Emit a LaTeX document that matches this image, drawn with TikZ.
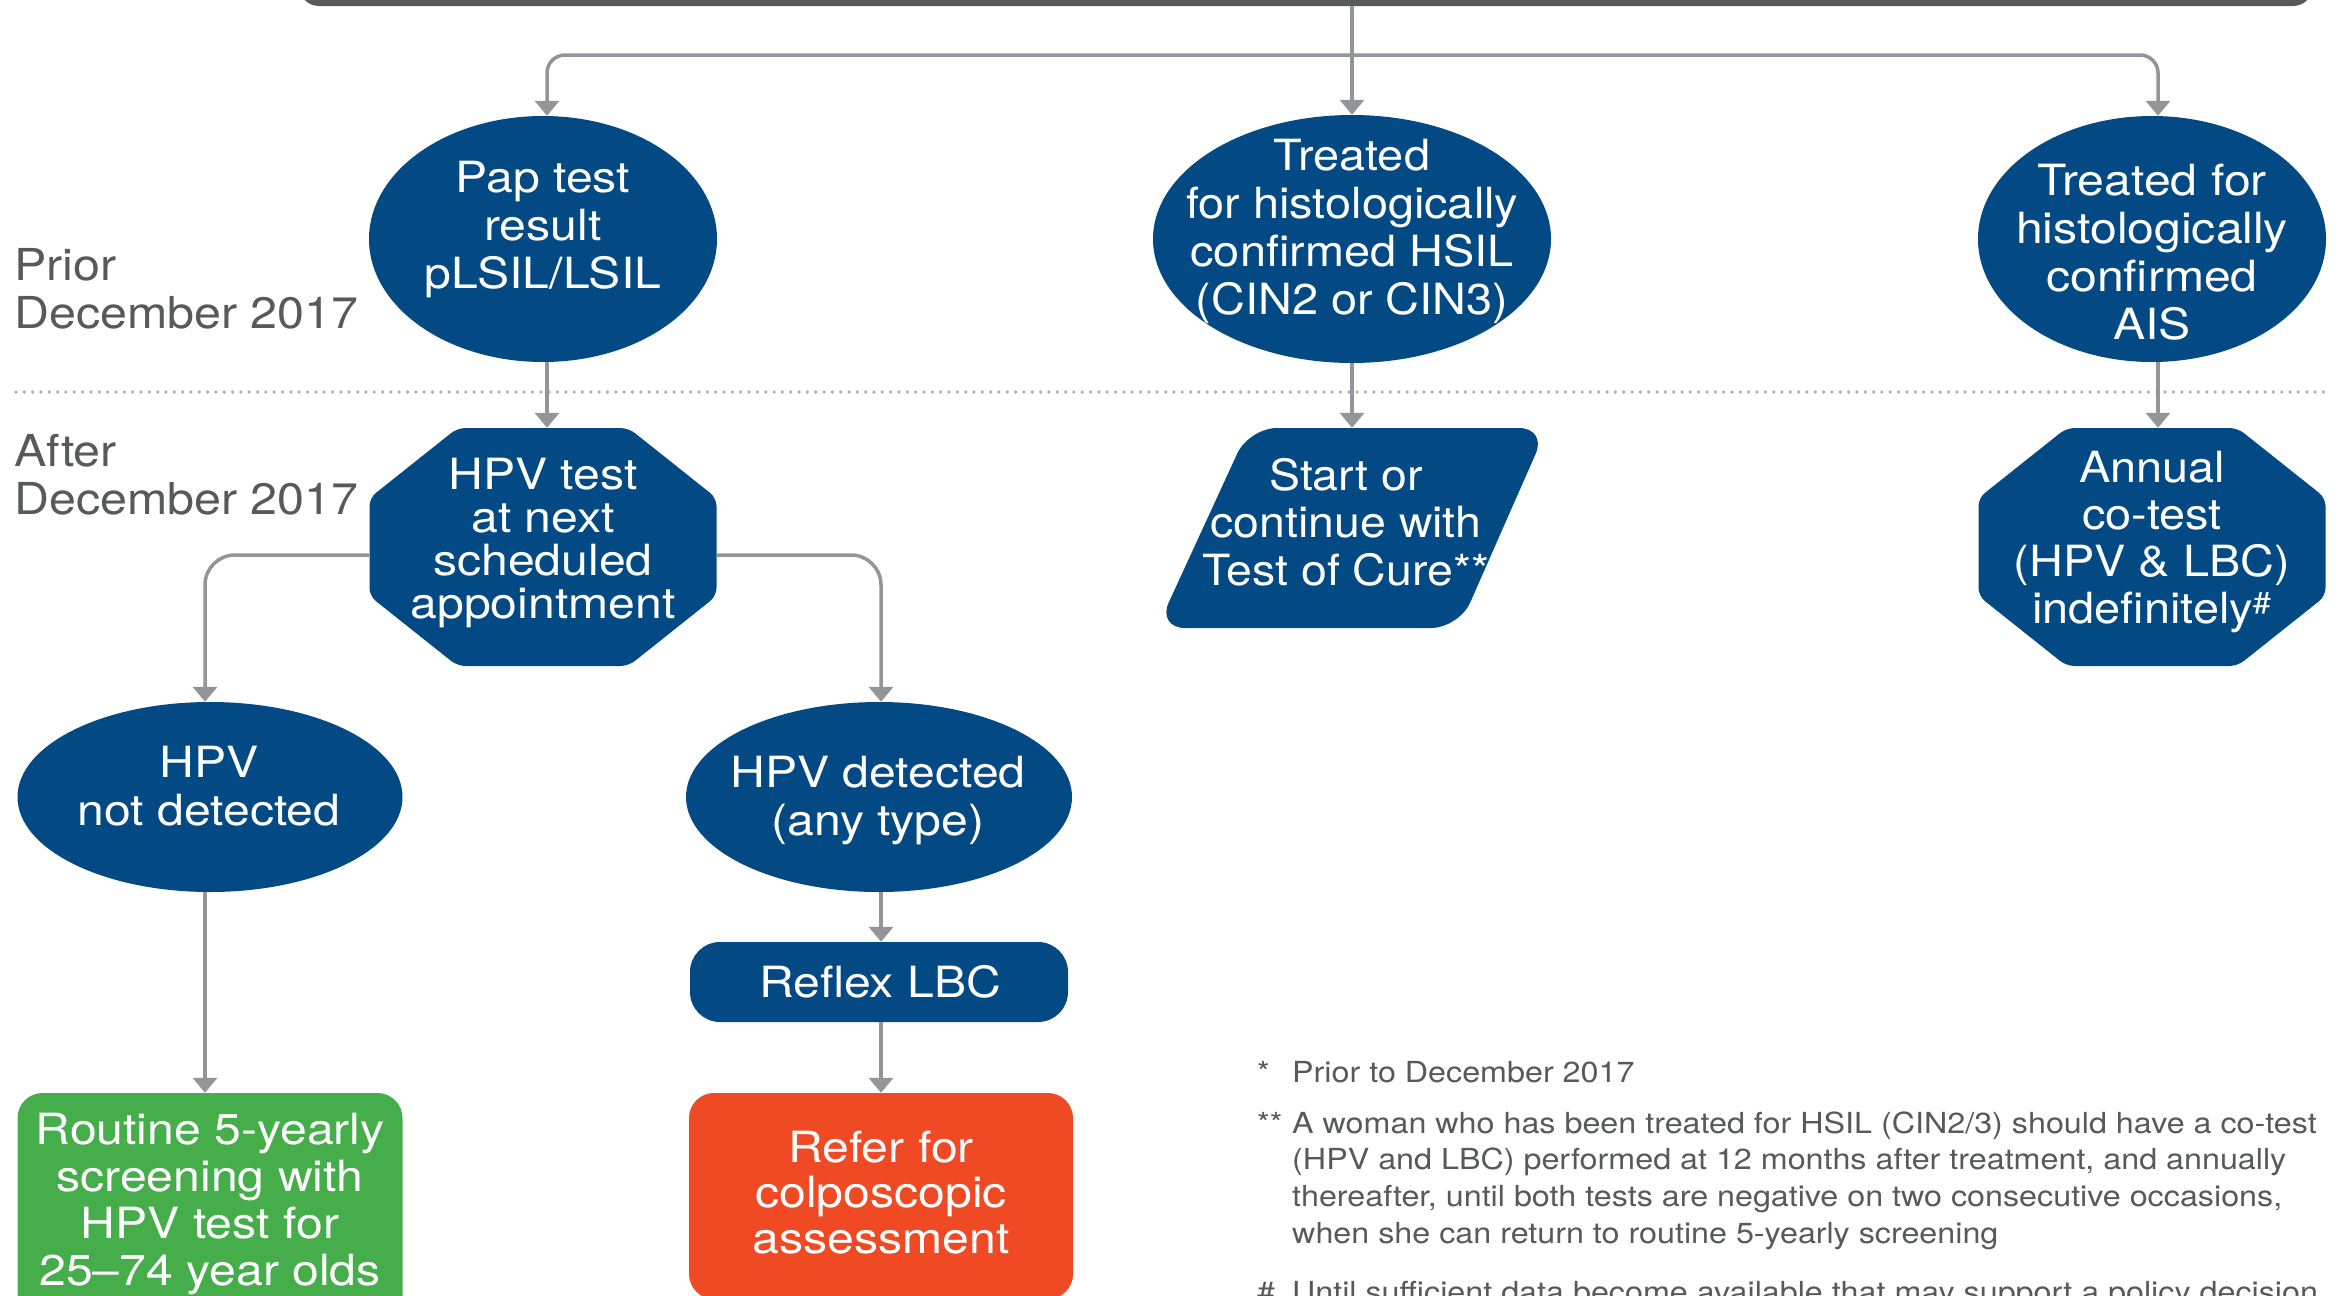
\documentclass[tikz,border=0pt]{standalone}
\usepackage{fontspec}
\setmainfont{TeX Gyre Heros}
\usepackage{graphicx}
\usetikzlibrary{shapes.geometric,arrows.meta,calc}
\definecolor{navy}{RGB}{3,73,132}
\definecolor{linegray}{RGB}{147,149,152}
\definecolor{dotgray}{RGB}{167,169,172}
\definecolor{bargray}{RGB}{88,89,91}
\definecolor{labelgray}{RGB}{88,89,91}
\definecolor{okgreen}{RGB}{69,174,74}
\definecolor{refred}{RGB}{239,74,35}
\newcommand\ctext[2][1.12]{\scalebox{#1}[1]{\vtop{\halign{\hfil##\hfil\cr#2\crcr}}}}
\newcommand\ltext[1]{\scalebox{1.1}[1]{\vtop{\halign{##\hfil\cr#1\crcr}}}}
\newcommand\ntext[1]{\scalebox{1.113}[1]{\vtop{\halign{##\hfil\cr#1\crcr}}}}
\newcommand\stext[1]{\scalebox{1.113}[1]{#1}}
\begin{document}
\begin{tikzpicture}[x=1pt,y=-1pt,
  conn/.style={draw=linegray, line width=3.5pt, -{Triangle[width=24pt,length=15pt]}},
  ell/.style={ellipse, fill=navy, inner sep=0pt},
  txt/.style={text=white, inner sep=0pt, anchor=base, font=\fontsize{43}{48}\selectfont},
  side/.style={text=labelgray, inner sep=0pt, anchor=base west, font=\fontsize{44}{48}\selectfont},
  note/.style={text=labelgray, inner sep=0pt, anchor=base west, font=\fontsize{29}{36.7}\selectfont},
  octshape/.style={minimum width=347pt, minimum height=238pt, inner sep=0pt,
    path picture={\fill[navy, rounded corners=8pt]
      ([xshift=88pt]path picture bounding box.north west) --
      ([xshift=-88pt]path picture bounding box.north east) --
      ([yshift=-70pt]path picture bounding box.north east) --
      ([yshift=70pt]path picture bounding box.south east) --
      ([xshift=-88pt]path picture bounding box.south east) --
      ([xshift=88pt]path picture bounding box.south west) --
      ([yshift=70pt]path picture bounding box.south west) --
      ([yshift=-70pt]path picture bounding box.north west) -- cycle;}},
  parashape/.style={minimum width=390pt, minimum height=200pt, inner sep=0pt,
    path picture={\fill[navy, rounded corners=28pt]
      ([xshift=92pt]path picture bounding box.north west) --
      (path picture bounding box.north east) --
      ([xshift=-88pt]path picture bounding box.south east) --
      (path picture bounding box.south west) -- cycle;}},
  boxshape/.style={inner sep=0pt}
]
\useasboundingbox (0,0) rectangle (2346,1296);
\fill[white] (0,0) rectangle (2346,1296);

% separator
\draw[dotgray, line width=3.5pt, line cap=round, dash pattern=on 0pt off 8.33pt] (16,392) -- (2330,392);

% shapes
\node[boxshape, fill=bargray, rounded corners=20pt, minimum width=2014pt, minimum height=46pt] (top) at (1306,-17) {};
\node[ell, minimum width=348pt, minimum height=246pt] (pap) at (543,239) {};
\node[ell, minimum width=398pt, minimum height=248pt] (hsil) at (1352,239) {};
\node[ell, minimum width=348pt, minimum height=246pt] (ais) at (2152,239) {};
\node[octshape] (hpvt) at (543,547) {};
\node[parashape] (toc) at (1352,528) {};
\node[octshape] (annual) at (2152,547) {};
\node[ell, minimum width=385pt, minimum height=190pt] (notdet) at (210,797) {};
\node[ell, minimum width=386pt, minimum height=190pt] (det) at (879,797) {};
\node[boxshape, fill=navy, rounded corners=30pt, minimum width=378pt, minimum height=80pt] (reflex) at (879,982) {};
\node[boxshape, fill=okgreen, rounded corners=25pt, minimum width=385pt, minimum height=230pt] (routine) at (210,1208) {};
\node[boxshape, fill=refred, rounded corners=25pt, minimum width=384pt, minimum height=206pt] (refer) at (881,1196) {};

% texts
\node[txt] (paptxt) at (543,192) {\ctext{Pap test\cr result\cr pLSIL/LSIL}};
\node[txt] (hsiltxt) at (1352,170) {\ctext[1.09]{Treated\cr for histologically\cr confirmed HSIL\cr (CIN2 or CIN3)}};
\node[txt] (aistxt) at (2152,195) {\ctext{Treated for\cr histologically\cr confirmed\cr AIS}};
\node[txt, font=\fontsize{43}{43}\selectfont] (hpvttxt) at (543,489) {\ctext{HPV test\cr at next\cr scheduled\cr appointment}};
\node[txt, font=\fontsize{43}{47.5}\selectfont] (toctxt) at (1346,490) {\ctext[1.08]{Start or\cr continue with\cr Test of Cure**}};
\node[txt, font=\fontsize{43}{47}\selectfont] (anntxt) at (2152,482) {\ctext[1.09]{Annual\cr co-test\cr (HPV \& LBC)\cr indefinitely\textsuperscript{\#}}};
\node[txt] (notdettxt) at (209,777) {\ctext{HPV\cr not detected}};
\node[txt] (dettxt) at (878,787) {\ctext{HPV detected\cr (any type)}};
\node[txt] (reflextxt) at (880,997) {\ctext{Reflex LBC}};
\node[txt, font=\fontsize{43}{47}\selectfont] (routinetxt) at (210,1144) {\ctext{Routine 5-yearly\cr screening with\cr HPV test for\cr 25--74 year olds}};
\node[txt, font=\fontsize{43}{45.5}\selectfont] (refertxt) at (881,1162) {\ctext{Refer for\cr colposcopic\cr assessment}};

% side labels
\node[side] (prior) at (14,280) {\ltext{Prior\cr December 2017}};
\node[side] (after) at (14,466) {\ltext{After\cr December 2017}};

% footnotes
\node[note] (m1) at (1257,1082) {\stext{*}};
\node[note] (n1) at (1292,1082) {\stext{Prior to December 2017}};
\node[note] (m2) at (1257,1133) {\stext{**}};
\node[note] (n2) at (1292,1133) {\ntext{A woman who has been treated for HSIL (CIN2/3) should have a co-test\cr (HPV and LBC) performed at 12 months after treatment, and annually\cr thereafter, until both tests are negative on two consecutive occasions,\cr when she can return to routine 5-yearly screening}};
\node[note] (m3) at (1257,1302) {\stext{\#}};
\node[note] (n3) at (1292,1302) {\stext{Until sufficient data become available that may support a policy decision}};

% connectors
\coordinate (split) at (1352,55);
\draw[conn] (top.south -| hsil.north) -- (hsil.north);
\draw[conn, rounded corners=18pt] (split) -| ([xshift=4pt]pap.north);
\draw[conn, rounded corners=18pt] (split) -| ([xshift=6pt]ais.north);
\draw[conn] ([xshift=4pt]pap.south) -- ([xshift=4pt]hpvt.north);
\draw[conn] (hsil.south) -- (toc.north);
\draw[conn] ([xshift=6pt]ais.south) -- ([xshift=6pt]annual.north);
\draw[conn, rounded corners=30pt] ([yshift=-8pt]hpvt.west) -| ([xshift=-5pt]notdet.north);
\draw[conn, rounded corners=30pt] ([yshift=-8pt]hpvt.east) -| ([xshift=2pt]det.north);
\draw[conn] ([xshift=-5pt]notdet.south) -- ([xshift=-5pt]routine.north);
\draw[conn] ([xshift=2pt]det.south) -- ([xshift=2pt]reflex.north);
\draw[conn] ([xshift=2pt]reflex.south) -- (refer.north);
\end{tikzpicture}
\end{document}
